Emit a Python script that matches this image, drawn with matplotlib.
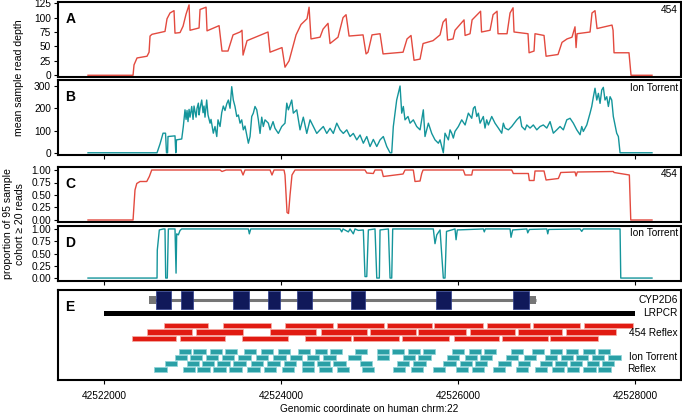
import matplotlib
matplotlib.use("Agg")
import matplotlib.pyplot as plt
import matplotlib.transforms as mtransforms

plt.rcParams['font.family'] = ['Liberation Sans', 'DejaVu Sans']

# ---- panel A: mean read depth, 454
depth_454_pos = [42521819, 42522328, 42522339, 42522373, 42522486, 42522509, 42522520, 42522542,
                 42522689, 42522712, 42522746, 42522791, 42522802, 42522859, 42522893, 42522927,
                 42522961, 42522972, 42523074, 42523085, 42523153, 42523164, 42523300, 42523333,
                 42523401, 42523458, 42523537, 42523559, 42523571, 42523616, 42523853, 42523876,
                 42524011, 42524045, 42524091, 42524170, 42524226, 42524294, 42524317, 42524339,
                 42524441, 42524475, 42524531, 42524554, 42524644, 42524701, 42524735, 42524769,
                 42524927, 42524961, 42524983, 42525028, 42525119, 42525153, 42525379, 42525424,
                 42525469, 42525503, 42525571, 42525605, 42525718, 42525797, 42525831, 42525865,
                 42525882, 42525944, 42525966, 42526068, 42526080, 42526136, 42526159, 42526255,
                 42526266, 42526362, 42526396, 42526441, 42526452, 42526554, 42526588, 42526622,
                 42526633, 42526791, 42526803, 42526859, 42526870, 42526972, 42526995, 42527130,
                 42527175, 42527232, 42527288, 42527322, 42527334, 42527345, 42527492, 42527514,
                 42527548, 42527571, 42527740, 42527752, 42527763, 42527932, 42527955, 42528192]
depth_454 = [0, 0, 18, 30, 33, 40, 68, 71,
             76, 98, 108, 112, 73, 74, 85, 106,
             122, 78, 82, 114, 118, 77, 86, 42,
             42, 70, 75, 78, 35, 60, 75, 40,
             48, 14, 25, 70, 88, 98, 118, 63,
             66, 80, 90, 55, 66, 100, 105, 68,
             70, 37, 40, 70, 72, 37, 40, 63,
             69, 26, 28, 55, 60, 70, 92, 98,
             61, 63, 78, 96, 69, 72, 96, 111,
             75, 78, 105, 111, 72, 72, 108, 117,
             75, 72, 39, 42, 72, 69, 33, 36,
             57, 63, 66, 84, 48, 72, 75, 108,
             112, 81, 87, 78, 39, 39, 0, 0]

# ---- panel B: mean read depth, Ion Torrent
depth_ion_pos = [42521819, 42522599, 42522633, 42522667, 42522695, 42522706, 42522718, 42522723,
                 42522802, 42522811, 42522819, 42522878, 42522896, 42522915, 42522927, 42522938,
                 42522949, 42522961, 42522972, 42522991, 42523006, 42523017, 42523040, 42523051,
                 42523066, 42523074, 42523085, 42523104, 42523119, 42523130, 42523141, 42523160,
                 42523175, 42523187, 42523198, 42523209, 42523235, 42523254, 42523274, 42523288,
                 42523311, 42523330, 42523348, 42523367, 42523387, 42523405, 42523424, 42523443,
                 42523461, 42523480, 42523500, 42523518, 42523537, 42523556, 42523574, 42523593,
                 42523631, 42523650, 42523669, 42523687, 42523706, 42523726, 42523744, 42523763,
                 42523782, 42523800, 42523819, 42523857, 42523876, 42523910, 42523932, 42523970,
                 42524008, 42524045, 42524065, 42524083, 42524121, 42524139, 42524178, 42524215,
                 42524252, 42524291, 42524328, 42524365, 42524404, 42524441, 42524478, 42524517,
                 42524554, 42524591, 42524630, 42524667, 42524704, 42524743, 42524780, 42524817,
                 42524856, 42524893, 42524930, 42524969, 42525006, 42525043, 42525082, 42525119,
                 42525156, 42525195, 42525232, 42525251, 42525269, 42525307, 42525345, 42525364,
                 42525382, 42525401, 42525435, 42525458, 42525495, 42525533, 42525571, 42525608,
                 42525627, 42525665, 42525703, 42525740, 42525778, 42525797, 42525834, 42525853,
                 42525891, 42525910, 42525929, 42525947, 42525966, 42526004, 42526042, 42526080,
                 42526117, 42526155, 42526174, 42526192, 42526212, 42526230, 42526249, 42526286,
                 42526305, 42526324, 42526343, 42526381, 42526418, 42526456, 42526494, 42526512,
                 42526531, 42526569, 42526607, 42526664, 42526701, 42526720, 42526757, 42526777,
                 42526814, 42526851, 42526890, 42526927, 42526964, 42527003, 42527040, 42527077,
                 42527116, 42527153, 42527190, 42527229, 42527266, 42527303, 42527342, 42527379,
                 42527398, 42527416, 42527455, 42527492, 42527511, 42527530, 42527548, 42527568,
                 42527586, 42527605, 42527624, 42527642, 42527661, 42527681, 42527699, 42527718,
                 42527737, 42527755, 42527793, 42527812, 42527831, 42528192]
depth_ion = [0, 0, 40, 88, 88, 0, 0, 73,
             76, 0, 58, 62, 118, 193, 150, 190,
             140, 195, 160, 208, 150, 210, 160, 200,
             223, 170, 200, 237, 180, 210, 160, 237,
             170, 150, 133, 150, 88, 118, 73, 148,
             118, 180, 210, 190, 220, 237, 200, 297,
             237, 208, 163, 170, 133, 148, 103, 120,
             43, 73, 163, 178, 208, 193, 148, 87,
             160, 118, 148, 133, 103, 140, 110, 87,
             118, 133, 223, 193, 237, 178, 193, 103,
             160, 87, 148, 118, 87, 103, 118, 87,
             110, 87, 133, 103, 87, 103, 73, 87,
             58, 80, 43, 73, 28, 60, 28, 58,
             73, 28, 0, 0, 118, 237, 300, 178,
             208, 148, 163, 133, 148, 118, 103, 193,
             73, 133, 87, 58, 43, 58, 0, 88,
             58, 103, 88, 66, 96, 118, 148, 125,
             178, 155, 200, 208, 163, 178, 133, 163,
             111, 148, 125, 163, 133, 111, 88, 133,
             111, 103, 118, 148, 163, 118, 103, 125,
             111, 125, 103, 118, 125, 111, 140, 88,
             103, 118, 103, 148, 155, 133, 103, 81,
             118, 96, 125, 178, 208, 252, 290, 237,
             267, 222, 282, 294, 237, 252, 208, 252,
             237, 163, 88, 73, 0, 0]

# ---- panel C: proportion >= 20 reads, 454
prop_454_pos = [42521819, 42522328, 42522350, 42522370, 42522407, 42522483, 42522512, 42522539,
                42523311, 42523333, 42523379, 42523548, 42523571, 42523593, 42523876, 42523898,
                42523921, 42524034, 42524045, 42524068, 42524085, 42524102, 42524124, 42524158,
                42524949, 42524969, 42525043, 42525062, 42525138, 42525156, 42525379, 42525401,
                42525495, 42525514, 42525571, 42525590, 42525605, 42526060, 42526080, 42526155,
                42526166, 42526607, 42526625, 42526795, 42526806, 42526859, 42526870, 42526972,
                42526995, 42527134, 42527161, 42527322, 42527334, 42527348, 42527755, 42527763,
                42527936, 42527952, 42528192]
prop_454 = [0, 0, 0.6, 0.73, 0.77, 0.77, 0.87, 1.0,
            1.0, 0.97, 1.0, 1.0, 0.9, 1.0, 1.0, 0.9,
            1.0, 1.0, 0.9, 0.15, 0.13, 0.5, 0.9, 1.0,
            1.0, 0.94, 0.93, 1.0, 1.0, 0.87, 0.92, 1.0,
            1.0, 0.77, 0.78, 0.93, 1.0, 1.0, 0.9, 0.9,
            1.0, 1.0, 0.93, 0.93, 0.79, 0.79, 0.98, 0.98,
            0.8, 0.83, 0.95, 0.96, 0.88, 0.96, 0.97, 0.95,
            0.9, 0, 0]

# ---- panel D: proportion >= 20 reads, Ion Torrent
prop_ion_pos = [42521819, 42522599, 42522602, 42522625, 42522670, 42522689, 42522697, 42522715,
                42522727, 42522802, 42522814, 42522821, 42522840, 42522859, 42522878, 42523631,
                42523642, 42523658, 42524667, 42524686, 42524701, 42524761, 42524780, 42524817,
                42524836, 42524874, 42524930, 42524949, 42524969, 42524987, 42525062, 42525082,
                42525111, 42525119, 42525213, 42525232, 42525251, 42525262, 42525721, 42525740,
                42525760, 42525797, 42525834, 42525853, 42525870, 42525929, 42525966, 42525978,
                42525992, 42526286, 42526297, 42526309, 42526588, 42526599, 42526618, 42526777,
                42526788, 42526806, 42527003, 42527014, 42527025, 42527379, 42527398, 42527416,
                42527831, 42527839, 42528192]
prop_ion = [0, 0, 0.57, 0.98, 1.0, 1.0, 0, 0,
            1.0, 1.0, 0.1, 0.9, 0.88, 0.97, 1.0, 1.0,
            0.9, 1.0, 1.0, 0.94, 1.0, 0.94, 1.0, 0.9,
            1.0, 0.97, 0.98, 0.03, 0.03, 0.98, 1.0, 0,
            0, 0.98, 1.0, 0, 0, 1.0, 1.0, 0.7,
            0.88, 0.98, 0.0, 0.0, 0.95, 0.98, 1.0, 0.78,
            0.98, 1.0, 0.94, 1.0, 1.0, 0.83, 0.98, 1.0,
            0.92, 0.99, 1.0, 0.9, 0.99, 1.0, 0.95, 1.0,
            1.0, 0, 0]

# ---- panel E: CYP2D6 gene model, LRPCR product, amplicons
gene_span = (42522508, 42526882)
utr_left = (42522508, 80)
utr_right = (42526802, 80)
exon_starts = [42522588, 42522870, 42523458, 42523853, 42524181, 42524791, 42525752, 42526622]
exon_lengths = [169, 136, 181, 136, 169, 158, 169, 180]
lrpcr_span = (42522000, 42528000)

reflex_454 = [
    [(42522678, 42523175), (42523339, 42523887), (42524045, 42524588), (42524633, 42525164),
     (42525192, 42525701), (42525729, 42526283), (42526322, 42526814), (42526848, 42527379),
     (42527424, 42527978)],
    [(42522486, 42522994), (42523040, 42523571), (42523876, 42524396), (42524452, 42524972),
     (42525006, 42525520), (42525543, 42526091), (42526136, 42526644), (42526673, 42527175),
     (42527221, 42527780)],
    [(42522313, 42522814), (42522859, 42523367), (42523556, 42524076), (42524271, 42524791),
     (42524819, 42525334), (42525364, 42525899), (42525955, 42526464), (42526497, 42527021),
     (42527040, 42527586)],
]

ion_amp_len = 140
reflex_ion = [
    [42522847, 42523011, 42523198, 42523362, 42523582, 42523774, 42523966, 42524192, 42524379,
     42524548, 42524836, 42525085, 42525254, 42525430, 42525605, 42525932, 42526125, 42526294,
     42526599, 42526836, 42527040, 42527221, 42527413, 42527582],
    [42522802, 42522972, 42523149, 42523330, 42523518, 42523718, 42523913, 42524102, 42524291,
     42524478, 42524761, 42525085, 42525375, 42525552, 42525873, 42526079, 42526249, 42526543,
     42526746, 42526983, 42527161, 42527334, 42527511, 42527699],
    [42522689, 42522935, 42523104, 42523280, 42523461, 42523658, 42523845, 42524034, 42524234,
     42524410, 42524591, 42524893, 42525307, 42525495, 42525834, 42526023, 42526192, 42526456,
     42526678, 42526927, 42527096, 42527266, 42527455, 42527624],
    [42522568, 42522889, 42523054, 42523235, 42523416, 42523619, 42523808, 42524008, 42524234,
     42524433, 42524630, 42524912, 42525262, 42525469, 42525714, 42525978, 42526155, 42526392,
     42526656, 42526870, 42527059, 42527229, 42527416, 42527586],
]

RED = '#e34a3f'
TEAL = '#14959b'
BAR_RED = '#e11b12'
BAR_TEAL = '#2aa0a6'
NAVY = '#10195a'
FS = 7.3

W, H = 682, 413
fig = plt.figure(figsize=(W / 100, H / 100), dpi=100)


def box(top, bottom, left=58, right=680.5):
    return [left / W, 1 - bottom / H, (right - left) / W, (bottom - top) / H]


axA = fig.add_axes(box(2, 77))
axB = fig.add_axes(box(80, 155))
axC = fig.add_axes(box(167, 222))
axD = fig.add_axes(box(226, 281))
axE = fig.add_axes(box(290, 380))

xlim = (42521480, 42528514)
xticks = [42522000, 42524000, 42526000, 42528000]

for ax in (axA, axB, axC, axD, axE):
    ax.set_xlim(*xlim)
    ax.set_xticks(xticks)
    for s in ax.spines.values():
        s.set_linewidth(1.5)
    ax.tick_params(axis='both', length=3, width=0.8, labelsize=FS, pad=2)
    ax.tick_params(axis='x', labelbottom=False)

for ax in (axA, axC):
    ax.tick_params(axis='x', length=0)
axE.tick_params(axis='x', labelbottom=True, pad=5)
axE.set_xticklabels([str(t) for t in xticks])
axE.set_yticks([])
fig.text(369 / W, 1 - 409 / H, 'Genomic coordinate on human chrm:22', fontsize=FS,
         ha='center', va='center')

axA.plot(depth_454_pos, depth_454, color=RED, lw=1.0)
axA.set_ylim(-3, 127)
axA.set_yticks([0, 25, 50, 75, 100, 125])

axB.plot(depth_ion_pos, depth_ion, color=TEAL, lw=1.0)
axB.set_ylim(-10, 327)
axB.set_yticks([0, 100, 200, 300])

axC.plot(prop_454_pos, prop_454, color=RED, lw=1.0)
axC.set_ylim(-0.04, 1.06)
axC.set_yticks([0, 0.25, 0.5, 0.75, 1.0])
axC.set_yticklabels(['0.00', '0.25', '0.50', '0.75', '1.00'])

axD.plot(prop_ion_pos, prop_ion, color=TEAL, lw=1.0)
axD.set_ylim(-0.06, 1.06)
axD.set_yticks([0, 0.25, 0.5, 0.75, 1.0])
axD.set_yticklabels(['0.00', '0.25', '0.50', '0.75', '1.00'])

letters = {axA: ('A', 0.87), axB: ('B', 0.87), axC: ('C', 0.82), axD: ('D', 0.82), axE: ('E', 0.89)}
for ax, (lab, yy) in letters.items():
    ax.text(0.012, yy, lab, transform=ax.transAxes, fontsize=10, fontweight='bold',
            va='top', ha='left')

for ax, lab in ((axA, '454'), (axB, 'Ion Torrent'), (axC, '454'), (axD, 'Ion Torrent')):
    ax.text(0.996, 0.96, lab, transform=ax.transAxes, fontsize=FS, va='top', ha='right')

fig.text(19 / W, 1 - 78 / H, 'mean sample read depth', rotation=90, fontsize=7.6,
         ha='center', va='center')
fig.text(14 / W, 1 - 224 / H, 'proportion of 95 sample\ncohort \u2265 20 reads', rotation=90,
         fontsize=7.6, ha='center', va='center', linespacing=1.15)

# panel E tracks (y in track units, 0 at bottom of panel)
axE.set_ylim(0, 90)
gene_y = 80
axE.plot(gene_span, [gene_y, gene_y], color='#767676', lw=2.2, solid_capstyle='butt', zorder=1)
axE.broken_barh([utr_left, utr_right], (gene_y - 4, 8), facecolors='#767676', zorder=2)
axE.broken_barh(list(zip(exon_starts, exon_lengths)), (gene_y - 9, 18),
                facecolors=NAVY, edgecolors='#2a3a8a', linewidth=0.5, zorder=3)

axE.broken_barh([(lrpcr_span[0], lrpcr_span[1] - lrpcr_span[0])], (64.5, 5), facecolors='black')

red_rows = [54.5, 48.0, 41.5]
for yc, row in zip(red_rows, reflex_454):
    axE.broken_barh([(s, e - s) for s, e in row], (yc - 2.9, 5.8),
                    facecolors=BAR_RED, edgecolors='#f6b0a8', linewidth=0.5)

teal_rows = [28.5, 22.5, 16.5, 10.3]
for yc, row in zip(teal_rows, reflex_ion):
    axE.broken_barh([(s, ion_amp_len) for s in row], (yc - 2.4, 4.8),
                    facecolors=BAR_TEAL, edgecolors='#8fd4d8', linewidth=0.5)

trE = mtransforms.blended_transform_factory(axE.transAxes, axE.transData)
for lab, yy, xx in (('CYP2D6', 80, 0.995), ('LRPCR', 67, 0.995), ('454 Reflex', 47.5, 0.995),
                    ('Ion Torrent', 23.5, 0.995), ('Reflex', 11.5, 0.961)):
    axE.text(xx, yy, lab, transform=trE, fontsize=FS, ha='right', va='center')

fig.savefig('out.png', dpi=100)
